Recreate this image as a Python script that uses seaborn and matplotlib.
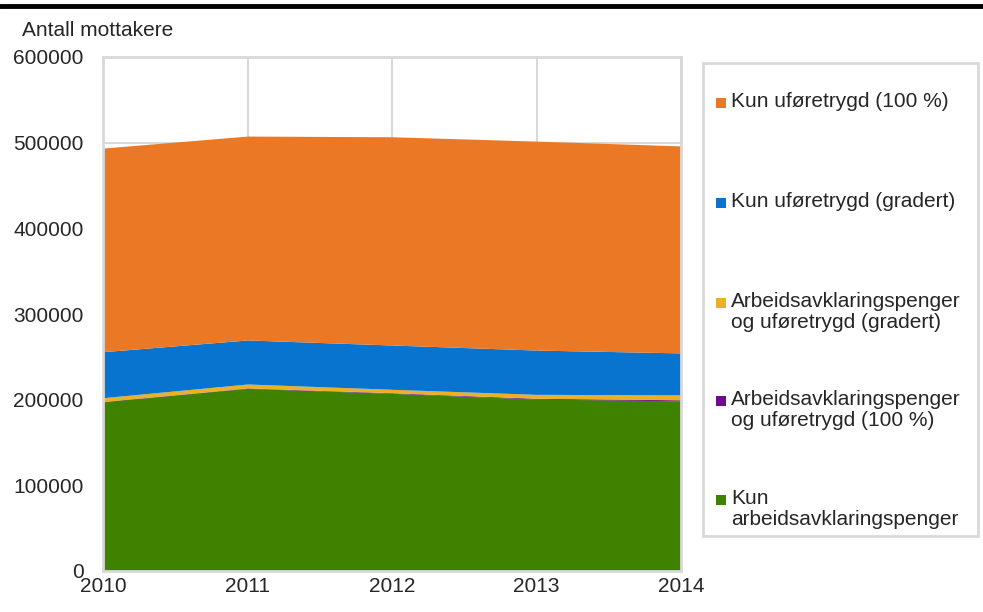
import pandas as pd
import seaborn as sns
import matplotlib.pyplot as plt
from matplotlib.patches import Rectangle
from matplotlib.lines import Line2D

# data
years = [2010, 2011, 2012, 2013, 2014]
kun_ufore_100 = [237700, 238000, 243100, 243900, 241600]
kun_ufore_gradert = [53700, 51400, 51700, 51700, 49000]
aap_ufore_gradert = [4400, 4600, 4000, 4600, 5800]
aap_ufore_100 = [300, 500, 700, 900, 1100]
kun_aap = [197600, 213200, 207400, 200700, 198700]

labels = ["Kun uføretrygd (100 %)",
          "Kun uføretrygd (gradert)",
          "Arbeidsavklaringspenger\nog uføretrygd (gradert)",
          "Arbeidsavklaringspenger\nog uføretrygd (100 %)",
          "Kun\narbeidsavklaringspenger"]
colors = ["#EB7825", "#0874CF", "#EBB023", "#6E0A8E", "#3E8200"]
yticks = [0, 100000, 200000, 300000, 400000, 500000, 600000]

series = [kun_ufore_100, kun_ufore_gradert, aap_ufore_gradert, aap_ufore_100, kun_aap]
rows = []
for lab, vals in zip(labels, series):
    for yr, v in zip(years, vals):
        rows.append({"year": yr, "value": v, "group": lab})
df = pd.DataFrame(rows)

sns.set_style("white")
plt.rcParams['font.family'] = ['Liberation Sans', 'DejaVu Sans']
plt.rcParams['font.size'] = 15

W, H = 983, 612
fig = plt.figure(figsize=(W/100, H/100), dpi=100)
ax = fig.add_axes([103/W, 1-571/H, (681-103)/W, (571-57)/H])

# first hue level ends up on top of the stack
sns.histplot(data=df, x="year", weights="value", hue="group", hue_order=labels,
             palette=colors, multiple="stack", element="poly", discrete=True,
             fill=True, alpha=1, linewidth=0, legend=False, ax=ax, zorder=2)

ax.set_xlim(2010, 2014)
ax.set_ylim(0, 600000)
ax.set_xticks(years)
ax.set_xticklabels([str(y) for y in years])
ax.set_yticks(yticks)
ax.set_yticklabels([str(t) for t in yticks])
ax.set_xlabel("")
ax.set_ylabel("")
ax.grid(True, color="#d9d9d9", linewidth=1.5)
ax.set_axisbelow(True)
ax.tick_params(axis="y", length=0, pad=14, labelsize=15)
ax.tick_params(axis="x", length=0, pad=4, labelsize=15)
for sp in ax.spines.values():
    sp.set_color("#d9d9d9")
    sp.set_linewidth(2)

fig.text(22/W, 1-31/H, "Antall mottakere", fontsize=15, va="center", ha="left")
fig.add_artist(Line2D([0, 1], [1-6/H, 1-6/H], color="black", linewidth=3.5,
                      transform=fig.transFigure))

# legend box drawn by hand so the entries are spaced like the original
fig.add_artist(Rectangle((703/W, 1-536/H), (978-703)/W, (536-63)/H,
                         transform=fig.transFigure, facecolor="white",
                         edgecolor="#d9d9d9", linewidth=2))
first_line_y = [103, 203, 303, 401, 500]
for lab, col, yy in zip(labels, colors, first_line_y):
    fig.add_artist(Rectangle((716/W, 1-(yy+5)/H), 10/W, 10/H,
                             transform=fig.transFigure, facecolor=col,
                             edgecolor="none"))
    fig.text(731/W, 1-(yy-11)/H, lab, fontsize=15, va="top", ha="left",
             linespacing=1.12)

fig.savefig("out.png", dpi=100)
